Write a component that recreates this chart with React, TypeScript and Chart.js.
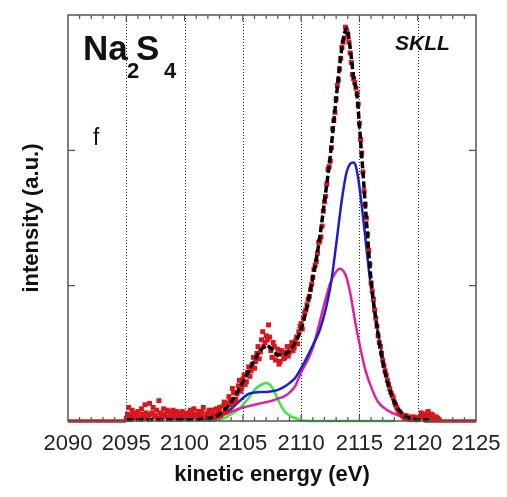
import React, { useEffect, useRef } from 'react';
import { Chart, registerables } from 'chart.js';

Chart.register(...registerables);

// ---- axis / tick data ----
const xTickValues = [2090, 2095, 2100, 2105, 2110, 2115, 2120, 2125];
const gridLineValues = [2095, 2100, 2105, 2110, 2115, 2120];
const yTickMarks = [1, 2];

// ---- measured spectrum (red squares), scan A ----
const measuredE = [
  2095.0, 2095.2, 2095.4, 2095.6, 2095.8, 2096.0, 2096.2, 2096.4, 2096.6, 2096.8,
  2097.0, 2097.2, 2097.4, 2097.6, 2097.8, 2098.0, 2098.2, 2098.4, 2098.6, 2098.8,
  2099.0, 2099.2, 2099.4, 2099.6, 2099.8, 2100.0, 2100.2, 2100.4, 2100.6, 2100.8,
  2101.0, 2101.2, 2101.4, 2101.6, 2101.8, 2102.0, 2102.2, 2102.4, 2102.6, 2102.8,
  2103.0, 2103.2, 2103.4, 2103.6, 2103.8, 2104.0, 2104.2, 2104.4, 2104.6, 2104.8,
  2105.0, 2105.2, 2105.4, 2105.6, 2105.8, 2106.0, 2106.2, 2106.4, 2106.6, 2106.8,
  2107.0, 2107.2, 2107.4, 2107.6, 2107.8, 2108.0, 2108.2, 2108.4, 2108.6, 2108.8,
  2109.0, 2109.2, 2109.4, 2109.6, 2109.8, 2110.0, 2110.2, 2110.4, 2110.6, 2110.8,
  2111.0, 2111.2, 2111.4, 2111.6, 2111.8, 2112.0, 2112.2, 2112.4, 2112.6, 2112.8,
  2113.0, 2113.2, 2113.4, 2113.6, 2113.8, 2114.0, 2114.2, 2114.4, 2114.6, 2114.8,
  2115.0, 2115.2, 2115.4, 2115.6, 2115.8, 2116.0, 2116.2, 2116.4, 2116.6, 2116.8,
  2117.0, 2117.2, 2117.4, 2117.6, 2117.8, 2118.0, 2118.2, 2118.4, 2118.6, 2118.8,
  2119.0, 2119.2, 2119.4, 2119.6, 2119.8, 2120.0, 2120.2, 2120.4, 2120.6, 2120.8,
  2121.0, 2121.2, 2121.4, 2121.6, 2121.8,
];
const measuredI = [
  0.02, 0.10, 0.04, 0.06, 0.03, 0.07, 0.02, 0.05, 0.12, 0.04,
  0.13, 0.06, 0.03, 0.08, 0.15, 0.05, 0.09, 0.03, 0.07, 0.04,
  0.08, 0.02, 0.06, 0.04, 0.07, 0.03, 0.05, 0.02, 0.06, 0.09,
  0.03, 0.07, 0.04, 0.10, 0.02, 0.06, 0.04, 0.08, 0.03, 0.05,
  0.10, 0.06, 0.14, 0.09, 0.18, 0.12, 0.21, 0.16, 0.26, 0.22,
  0.31, 0.27, 0.36, 0.33, 0.42, 0.39, 0.50, 0.46, 0.60, 0.55,
  0.63, 0.71, 0.52, 0.58, 0.45, 0.53, 0.44, 0.50, 0.47, 0.55,
  0.51, 0.58, 0.54, 0.62, 0.66, 0.72, 0.76, 0.82, 0.90, 0.97,
  1.06, 1.15, 1.24, 1.33, 1.44, 1.62, 1.75, 1.88, 2.02, 2.22,
  2.38, 2.52, 2.68, 2.80, 2.91, 2.86, 2.72, 2.56, 2.50, 2.42,
  2.20, 1.98, 1.70, 1.50, 1.26, 1.02, 0.90, 0.76, 0.63, 0.55,
  0.45, 0.37, 0.30, 0.24, 0.19, 0.14, 0.10, 0.07, 0.05, 0.03,
  0.04, 0.02, 0.03, 0.01, 0.02, 0.01, 0.03, 0.05, 0.02, 0.06,
  0.04, 0.05, 0.02, 0.03, 0.01,
];
// ---- measured spectrum, scan B (interleaved points) ----
const measured2E = [
  2095.1, 2095.3, 2095.5, 2095.7, 2095.9, 2096.1, 2096.3, 2096.5, 2096.7, 2096.9,
  2097.1, 2097.3, 2097.5, 2097.7, 2097.9, 2098.1, 2098.3, 2098.5, 2098.7, 2098.9,
  2099.1, 2099.3, 2099.5, 2099.7, 2099.9, 2100.1, 2100.3, 2100.5, 2100.7, 2100.9,
  2101.1, 2101.3, 2101.5, 2101.7, 2101.9, 2102.1, 2102.3, 2102.5, 2102.7, 2102.9,
  2103.1, 2103.3, 2103.5, 2103.7, 2103.9, 2104.1, 2104.3, 2104.5, 2104.7, 2104.9,
  2105.1, 2105.3, 2105.5, 2105.7, 2105.9, 2106.1, 2106.3, 2106.5, 2106.7, 2106.9,
  2107.1, 2107.3, 2107.5, 2107.7, 2107.9, 2108.1, 2108.3, 2108.5, 2108.7, 2108.9,
  2109.1, 2109.3, 2109.5, 2109.7, 2109.9, 2110.1, 2110.3, 2110.5, 2110.7, 2110.9,
  2111.1, 2111.3, 2111.5, 2111.7, 2111.9, 2112.1, 2112.3, 2112.5, 2112.7, 2112.9,
  2113.1, 2113.3, 2113.5, 2113.7, 2113.9, 2114.1, 2114.3, 2114.5, 2114.7, 2114.9,
  2115.1, 2115.3, 2115.5, 2115.7, 2115.9, 2116.1, 2116.3, 2116.5, 2116.7, 2116.9,
  2117.1, 2117.3, 2117.5, 2117.7, 2117.9, 2118.1, 2118.3, 2118.5, 2118.7, 2118.9,
  2119.1, 2119.3, 2119.5, 2119.7, 2119.9, 2120.1, 2120.3, 2120.5, 2120.7, 2120.9,
  2121.1, 2121.3, 2121.5, 2121.7,
];
const measured2I = [
  0.05, 0.01, 0.08, 0.02, 0.05, 0.03, 0.09, 0.02, 0.06, 0.03,
  0.05, 0.10, 0.04, 0.02, 0.06, 0.03, 0.05, 0.08, 0.02, 0.06,
  0.04, 0.07, 0.03, 0.05, 0.02, 0.06, 0.04, 0.08, 0.03, 0.05,
  0.02, 0.05, 0.07, 0.03, 0.05, 0.08, 0.02, 0.05, 0.09, 0.07,
  0.04, 0.11, 0.07, 0.13, 0.16, 0.24, 0.14, 0.20, 0.30, 0.25,
  0.34, 0.29, 0.40, 0.37, 0.47, 0.44, 0.55, 0.51, 0.66, 0.58,
  0.60, 0.62, 0.47, 0.55, 0.49, 0.42, 0.52, 0.46, 0.51, 0.48,
  0.55, 0.52, 0.59, 0.57, 0.70, 0.68, 0.80, 0.86, 0.92, 1.01,
  1.12, 1.18, 1.32, 1.36, 1.55, 1.66, 1.86, 1.92, 2.16, 2.28,
  2.48, 2.60, 2.76, 2.83, 2.88, 2.80, 2.65, 2.53, 2.46, 2.34,
  2.08, 1.84, 1.60, 1.38, 1.16, 0.96, 0.82, 0.70, 0.58, 0.50,
  0.41, 0.34, 0.27, 0.21, 0.17, 0.12, 0.08, 0.06, 0.04, 0.02,
  0.03, 0.01, 0.02, 0.03, 0.01, 0.02, 0.06, 0.03, 0.04, 0.07,
  0.02, 0.04, 0.01, 0.02,
];
// zero-intensity stretches at both ends of the window
const zeroE = [2090, 2095, 2107, 2120.5, 2125];
const zeroI = [0, 0, null, 0, 0];

// ---- total fit (black dashed) ----
const fitE = [
  2095, 2097, 2099, 2101, 2102, 2102.5, 2103, 2103.5, 2104, 2104.5,
  2105, 2105.5, 2106, 2106.5, 2107, 2107.5, 2108, 2108.5, 2109, 2109.5,
  2110, 2110.5, 2111, 2111.5, 2112, 2112.5, 2113, 2113.5, 2113.9, 2114.2,
  2114.5, 2114.8, 2115, 2115.3, 2115.6, 2116, 2116.5, 2117, 2117.5, 2118,
  2118.5, 2119, 2119.5, 2120, 2121,
];
const fitI = [
  0.01, 0.01, 0.01, 0.01, 0.02, 0.03, 0.05, 0.09, 0.14, 0.21,
  0.29, 0.37, 0.45, 0.52, 0.56, 0.53, 0.49, 0.49, 0.52, 0.58,
  0.68, 0.84, 1.06, 1.30, 1.62, 1.96, 2.38, 2.76, 2.90, 2.76,
  2.54, 2.40, 2.18, 1.84, 1.48, 1.04, 0.70, 0.44, 0.26, 0.14,
  0.07, 0.03, 0.02, 0.01, 0.01,
];

// ---- component 1 (blue) ----
const blueE = [
  2102, 2102.5, 2103, 2103.5, 2104, 2104.5, 2105, 2105.5, 2106, 2106.5,
  2107, 2107.5, 2108, 2108.5, 2109, 2109.5, 2110, 2110.5, 2111, 2111.5,
  2112, 2112.3, 2112.6, 2113, 2113.5, 2113.9, 2114.2, 2114.5, 2114.7, 2114.9,
  2115.2, 2115.5, 2115.8, 2116.1, 2116.4, 2116.8, 2117.2, 2117.6, 2118, 2118.5,
  2119, 2119.5, 2120,
];
const blueI = [
  0.0, 0.02, 0.04, 0.06, 0.09, 0.13, 0.17, 0.20, 0.21, 0.215,
  0.215, 0.22, 0.23, 0.25, 0.28, 0.32, 0.39, 0.47, 0.56, 0.65,
  0.79, 0.90, 1.04, 1.30, 1.64, 1.84, 1.90, 1.91, 1.88, 1.79,
  1.59, 1.36, 1.12, 0.92, 0.75, 0.55, 0.38, 0.23, 0.14, 0.07,
  0.03, 0.01, 0.0,
];

// ---- component 2 (magenta) ----
const magentaE = [
  2102.5, 2103, 2103.5, 2104, 2104.5, 2105, 2105.5, 2106, 2106.5, 2107,
  2107.5, 2108, 2108.5, 2109, 2109.5, 2110, 2110.5, 2111, 2111.5, 2112,
  2112.5, 2112.9, 2113.3, 2113.8, 2114.2, 2114.6, 2115.05, 2115.5, 2116.1, 2116.6,
  2117.4, 2118.2, 2119.1, 2120,
];
const magentaI = [
  0.0, 0.03, 0.05, 0.07, 0.085, 0.10, 0.11, 0.12, 0.13, 0.14,
  0.15, 0.165, 0.18, 0.21, 0.26, 0.36, 0.44, 0.54, 0.70, 0.87,
  1.02, 1.09, 1.125, 1.08, 0.95, 0.75, 0.55, 0.38, 0.23, 0.14,
  0.08, 0.045, 0.02, 0.01,
];

// ---- component 3 (green) ----
const greenE = [
  2101.5, 2102.5, 2103, 2103.5, 2104, 2104.5, 2105, 2105.5, 2106, 2106.5,
  2107, 2107.5, 2108, 2108.5, 2109, 2109.5, 2110, 2111, 2118,
];
const greenI = [
  0.0, 0.005, 0.01, 0.025, 0.05, 0.075, 0.12, 0.17, 0.23, 0.265,
  0.28, 0.25, 0.16, 0.08, 0.04, 0.02, 0.005, 0.0, 0.0,
];

const pts = (xs: number[], ys: (number | null)[]) => xs.map((x, i) => ({ x, y: ys[i] }));

const FONT = "'Liberation Sans', Arial, sans-serif";
const RED = '#d9161c';

const decorPlugin = {
  id: 'decor',
  beforeDatasetsDraw(chart: any) {
    const { ctx, chartArea, scales } = chart;
    const xs = scales.x;
    ctx.save();
    ctx.strokeStyle = '#222';
    ctx.lineWidth = 1;
    ctx.setLineDash([1, 2]);
    gridLineValues.forEach((v) => {
      const px = Math.round(xs.getPixelForValue(v)) + 0.5;
      ctx.beginPath();
      ctx.moveTo(px, chartArea.top);
      ctx.lineTo(px, chartArea.bottom);
      ctx.stroke();
    });
    ctx.restore();
  },
  afterDraw(chart: any) {
    const { ctx, chartArea, scales } = chart;
    const xs = scales.x;
    const ys = scales.y;
    const { left, right, top, bottom } = chartArea;
    ctx.save();
    // frame
    ctx.strokeStyle = '#555';
    ctx.lineWidth = 1.5;
    ctx.strokeRect(left, top, right - left, bottom - top);
    // minor/major ticks on top and bottom (inward)
    ctx.lineWidth = 1.2;
    for (let v = xs.min + 1; v < xs.max; v += 1) {
      const px = xs.getPixelForValue(v);
      const len = v % 5 === 0 ? 6 : 4;
      ctx.beginPath();
      ctx.moveTo(px, top);
      ctx.lineTo(px, top + len);
      ctx.moveTo(px, bottom);
      ctx.lineTo(px, bottom - len);
      ctx.stroke();
    }
    // y ticks on left and right (inward)
    yTickMarks.forEach((v) => {
      const py = ys.getPixelForValue(v);
      ctx.beginPath();
      ctx.moveTo(left, py);
      ctx.lineTo(left + 7, py);
      ctx.moveTo(right, py);
      ctx.lineTo(right - 7, py);
      ctx.stroke();
    });

    // texts
    ctx.fillStyle = '#111';
    ctx.textBaseline = 'alphabetic';
    ctx.textAlign = 'left';
    ctx.font = `bold 35px ${FONT}`;
    ctx.fillText('Na', 83, 60);
    ctx.fillText('S', 136, 60);
    ctx.font = `bold 22px ${FONT}`;
    ctx.fillText('2', 127, 78);
    ctx.fillText('4', 164, 78);

    ctx.font = `23px ${FONT}`;
    ctx.fillText('f', 93, 145);

    ctx.font = `italic bold 21px ${FONT}`;
    ctx.fillText('SKLL', 395, 50);

    // axis titles
    ctx.font = `bold 22px ${FONT}`;
    ctx.textAlign = 'center';
    ctx.fillText('kinetic energy (eV)', (left + right) / 2, 481);

    ctx.save();
    ctx.translate(38, (top + bottom) / 2);
    ctx.rotate(-Math.PI / 2);
    ctx.fillText('intensity (a.u.)', 0, 0);
    ctx.restore();

    ctx.restore();
  },
};

export default function App() {
  const canvasRef = useRef<HTMLCanvasElement | null>(null);

  useEffect(() => {
    if (!canvasRef.current) return;
    const lineDefaults = {
      pointRadius: 0,
      fill: false,
      cubicInterpolationMode: 'monotone' as const,
      clip: false as any,
    };
    const scatterDefaults = {
      showLine: false,
      pointStyle: 'rect',
      pointRadius: 3.5,
      pointBackgroundColor: RED,
      pointBorderWidth: 0,
      borderColor: RED,
      clip: false as any,
    };
    const chart = new Chart(canvasRef.current, {
      type: 'line',
      data: {
        datasets: [
          {
            label: 'fit',
            data: pts(fitE, fitI),
            borderColor: '#000',
            borderWidth: 3.5,
            borderDash: [7, 3],
            ...lineDefaults,
          },
          { label: 'measured A', data: pts(measuredE, measuredI), ...scatterDefaults },
          { label: 'measured B', data: pts(measured2E, measured2I), ...scatterDefaults },
          {
            label: 'zero',
            data: pts(zeroE, zeroI),
            borderColor: RED,
            borderWidth: 3.5,
            spanGaps: false,
            ...lineDefaults,
          },
          {
            label: 'comp1',
            data: pts(blueE, blueI),
            borderColor: '#1c1fd0',
            borderWidth: 2.5,
            ...lineDefaults,
          },
          {
            label: 'comp2',
            data: pts(magentaE, magentaI),
            borderColor: '#e0239c',
            borderWidth: 2.5,
            ...lineDefaults,
          },
          {
            label: 'comp3',
            data: pts(greenE, greenI),
            borderColor: '#3ce83c',
            borderWidth: 2.5,
            ...lineDefaults,
          },
        ] as any,
      },
      options: {
        responsive: false,
        animation: false,
        events: [],
        layout: { padding: { top: 15, right: 31, left: 0, bottom: 0 } },
        plugins: { legend: { display: false }, tooltip: { enabled: false } },
        scales: {
          x: {
            type: 'linear',
            min: 2090,
            max: 2125,
            afterBuildTicks: (s: any) => {
              s.ticks = xTickValues.map((v) => ({ value: v }));
            },
            afterFit: (s: any) => {
              s.height = 76;
            },
            grid: { display: false },
            border: { display: false },
            ticks: {
              autoSkip: false,
              maxRotation: 0,
              minRotation: 0,
              padding: 2,
              color: '#222',
              font: { family: FONT, size: 22 },
              callback: (v: any) => String(v),
            },
          },
          y: {
            type: 'linear',
            min: 0,
            max: 3,
            afterFit: (s: any) => {
              s.width = 68;
            },
            grid: { display: false },
            border: { display: false },
            ticks: { display: false },
          },
        },
      },
      plugins: [decorPlugin],
    });
    return () => chart.destroy();
  }, []);

  return (
    <div style={{ position: 'absolute', left: 0, top: 0, width: 507, height: 497, background: '#fff' }}>
      <canvas ref={canvasRef} width={507} height={497} style={{ width: 507, height: 497, display: 'block' }} />
    </div>
  );
}
